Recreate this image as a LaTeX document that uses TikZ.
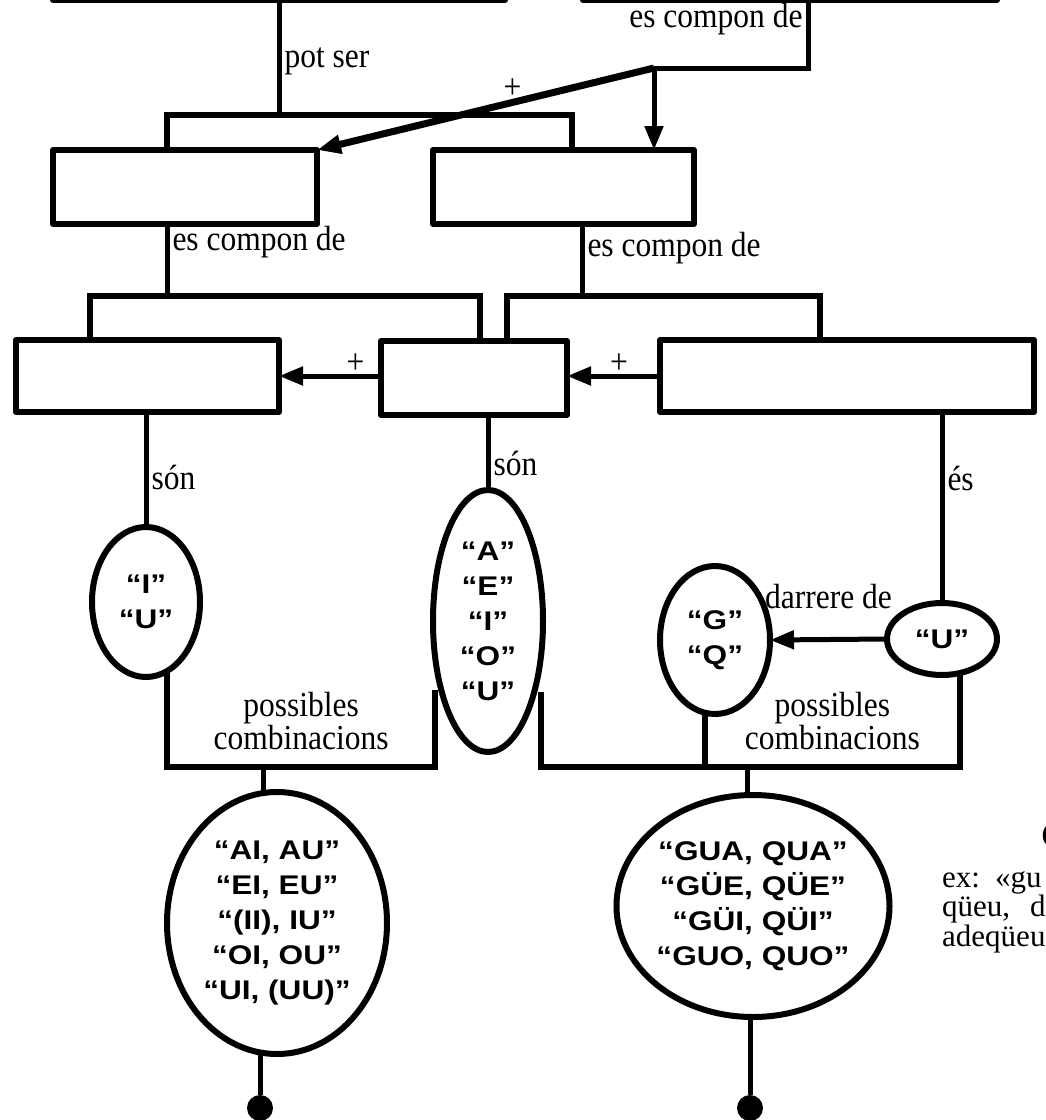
\documentclass[tikz,border=0pt]{standalone}
\usepackage{fontspec}
\setmainfont{Liberation Serif}
\newfontfamily\labelfont[FakeStretch=0.9]{Liberation Serif}
\newfontfamily\ovalfont[FakeStretch=1.17]{Liberation Sans}
\usetikzlibrary{arrows.meta,shapes.geometric}

\begin{document}
\begin{tikzpicture}[
  x=1pt,y=-1pt,
  box/.style 2 args={draw,line width=6pt,line join=round,minimum width=#1,minimum height=#2,inner sep=0pt,outer sep=0pt},
  oval/.style 2 args={ellipse,draw,line width=6pt,minimum width=#1,minimum height=#2,inner sep=0pt,outer sep=0pt,align=center,font=\ovalfont\bfseries\fontsize{27}{35}\selectfont},
  tlabel/.style={font=\labelfont\fontsize{35}{33}\selectfont,inner sep=3pt},
  conn/.style={line width=5pt},
  bar/.style={line width=6pt},
  arr/.style={line width=5pt,-{Triangle[length=24pt,width=18pt]}},
  dot/.style={circle,fill,minimum size=26pt,inner sep=0pt},
]
\useasboundingbox (0,0) rectangle (1045,1120);

\node[box={452}{60}] (top1) at (279,-30) {};
\node[box={414}{60}] (top2) at (790,-30) {};
\node[box={264}{74}] (dec) at (185,187) {};
\node[box={261}{74}] (cre) at (563.5,187) {};
\node[box={263}{72}] (semi) at (147.5,376) {};
\node[box={186}{74}] (voc) at (474,378) {};
\node[box={374}{72}] (ugq) at (847,376) {};

\node[oval={108}{150}] (iu) at (146,602) {“I”\\“U”};
\node[oval={110}{262}] (vow) at (488,621) {“A”\\“E”\\“I”\\“O”\\“U”};
\node[oval={110}{148}] (gq) at (715,640) {“G”\\“Q”};
\node[oval={110}{72}] (u) at (942,639) {“U”};
\node[oval={220}{262}] (dc) at (277,923) {“AI, AU”\\“EI, EU”\\“(II), IU”\\“OI, OU”\\“UI, (UU)”};
\node[oval={262}{222}] (gc) at (753,906) {“GUA, QUA”\\“GÜE, QÜE”\\“GÜI, QÜI”\\“GUO, QUO”};

\node[dot] (endl) at (260,1108) {};
\node[dot] (endr) at (750,1108) {};

\coordinate (j1l) at (167,115);
\coordinate (j1r) at (572,115);
\coordinate (k2) at (808,68);
\coordinate (k1) at (654,68);
\coordinate (j2l) at (90,296);
\coordinate (j2m) at (167,296);
\coordinate (j2r) at (480,296);
\coordinate (j3l) at (507,296);
\coordinate (j3m) at (582,296);
\coordinate (j3r) at (820,296);
\coordinate (vl) at (435,690);
\coordinate (vr) at (541,692);
\coordinate (j4) at (263,767);
\coordinate (j5) at (747,767);

\draw[conn] (top1.south) -- (top1.south |- j1l) node[tlabel,right,pos=0.53] {pot ser};
\draw[bar] (dec.north -| j1l) -- (j1l) -- (j1r) -- (cre.north -| j1r);
\draw[conn] (top2.south -| k2) -- (k2) node[tlabel,left,pos=0.28] {es compon de} -- (k1);
\draw[arr] (k1) -- (cre.north -| k1);
\draw[arr,line width=7pt] (k1) -- (dec.north east) node[tlabel,pos=0.42,yshift=14pt] {+};

\draw[conn] (dec.south -| j2m) -- (j2m) node[tlabel,right,pos=0.25] {es compon de};
\draw[bar] (semi.north -| j2l) -- (j2l) -- (j2r) -- (voc.north -| j2r);
\draw[conn] (cre.south -| j3m) -- (j3m) node[tlabel,right,pos=0.33] {es compon de};
\draw[bar] (voc.north -| j3l) -- (j3l) -- (j3r) -- (ugq.north -| j3r);
\draw[arr] (voc.west |- semi.east) -- (semi.east) node[tlabel,pos=0.25,yshift=12pt] {+};
\draw[arr] (ugq.west) -- (voc.east |- ugq.west) node[tlabel,pos=0.44,yshift=12pt] {+};

\draw[conn] (semi.south -| iu.north) -- (iu.north) node[tlabel,right,pos=0.57] {són};
\draw[conn] (voc.south -| vow.north) -- (vow.north) node[tlabel,right,pos=0.65] {són};
\draw[conn] (ugq.south -| u.north) -- (u.north) node[tlabel,right,pos=0.35] {és};
\draw[arr] (u.west) -- (gq.east) node[tlabel,midway,yshift=43pt] {darrere de};

\draw[bar] (iu.-73) -- (iu.-73 |- j4) -- (vl |- j4)
  node[tlabel,midway,above=11pt,align=center] {possibles\\combinacions} -- (vl);
\draw[bar] (vr) |- (j5) -| (u.-62);
\draw[bar] (gq.-98) -- (gq.-98 |- j5) -- (u.-62 |- j5)
  node[tlabel,midway,above=11pt,align=center] {possibles\\combinacions};

\draw[conn] (j4) -- (dc.north -| j4);
\draw[conn] (j5) -- (gc.north -| j5);
\draw[conn] (dc.south -| endl) -- (endl);
\draw[conn] (gc.south -| endr) -- (endr);

\node[anchor=west,inner sep=0pt,align=left,font=\fontsize{31}{29.5}\selectfont] (ex) at (942,912)
  {ex:\hspace{15pt}«gu\\qüeu,\hspace{20pt}d\\adeqüeu};
\node[anchor=west,inner sep=0pt,font=\bfseries\fontsize{36}{36}\selectfont] (capc) at (1041,836) {C};
\end{tikzpicture}
\end{document}
